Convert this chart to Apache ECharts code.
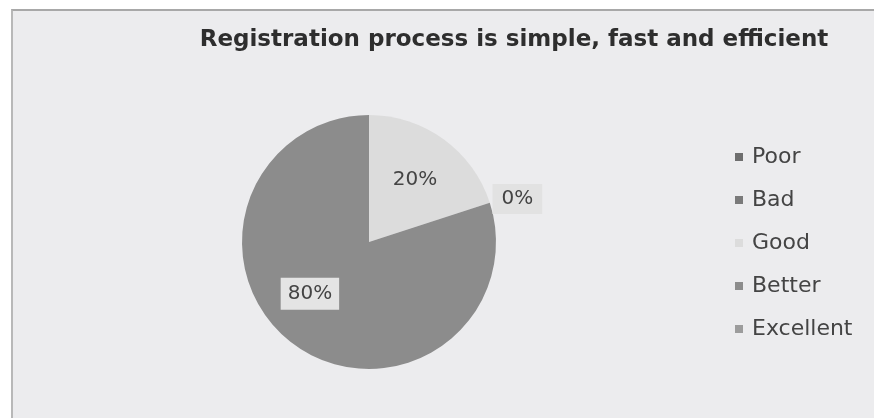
<!DOCTYPE html>
<html>
<head>
<meta charset="utf-8">
<script src="https://cdn.jsdelivr.net/npm/echarts@6/dist/echarts.min.js"></script>
<style>
body { margin: 0; background: #ffffff; }
#chart {
  position: absolute;
  left: 11px;
  top: 9px;
  width: 863px;
  height: 409px;
  border-top: 2px solid #a8a8a8;
  border-left: 2px solid #b8b8b8;
  box-sizing: border-box;
  background: #ececee;
}
</style>
</head>
<body>
<div id="chart"></div>
<script>
// categories and values
const categories = ["Poor", "Bad", "Good", "Better", "Excellent"];
const values = [0, 0, 20, 80, 0];
const sliceColors = ["#6e6e6e", "#7a7a7a", "#dcdcdc", "#8c8c8c", "#9c9c9c"];
// order the slices are drawn in (the 0% label sits between Good and Better)
const drawOrder = ["Poor", "Good", "Bad", "Better", "Excellent"];
const shownLabels = ["Good", "Bad", "Better"];
// small nudges of the data labels, like the hand moved ones in the original
const labelNudge = { Good: [7, -8], Bad: [-14, -2], Better: [-20, -2] };

let chart = echarts.init(document.getElementById("chart"));

let pieData = drawOrder.map(function(name) {
  let i = categories.indexOf(name);
  let item = {
    name: name,
    value: values[i],
    itemStyle: { color: sliceColors[i] }
  };
  if (shownLabels.indexOf(name) < 0) {
    item.label = { show: false };
  } else if (name === "Bad") {
    item.label = { position: "outside", backgroundColor: "#e2e2e2", padding: [5, 9] };
  } else if (name === "Better") {
    item.label = { backgroundColor: "#e4e4e4", padding: [6, 7] };
  }
  return item;
});

chart.setOption({
  animation: false,
  title: {
    text: "Registration process is simple, fast and efficient",
    left: 496,
    top: 13,
    textAlign: "center",
    textStyle: {
      fontFamily: "DejaVu Sans",
      fontWeight: "bold",
      fontSize: 23,
      color: "#2e2e2e"
    }
  },
  legend: {
    orient: "vertical",
    left: 717,
    top: 130,
    data: categories,
    icon: "rect",
    itemWidth: 8,
    itemHeight: 8,
    itemGap: 21,
    textStyle: {
      fontFamily: "DejaVu Sans",
      fontSize: 22,
      color: "#444444",
      lineHeight: 22,
      padding: [0, 0, 0, 4]
    }
  },
  series: [
    {
      type: "pie",
      center: [356, 231],
      radius: [0, 127],
      startAngle: 90,
      clockwise: true,
      minShowLabelAngle: 0,
      data: pieData,
      label: {
        show: true,
        position: "inside",
        formatter: "{d}%",
        fontFamily: "DejaVu Sans",
        fontSize: 20,
        color: "#444444"
      },
      labelLine: { show: false, length: 6, length2: 6 },
      labelLayout: function(params) {
        let nudge = labelNudge[drawOrder[params.dataIndex]];
        return nudge ? { dx: nudge[0], dy: nudge[1] } : {};
      },
      emphasis: { disabled: true }
    }
  ]
});
</script>
</body>
</html>
